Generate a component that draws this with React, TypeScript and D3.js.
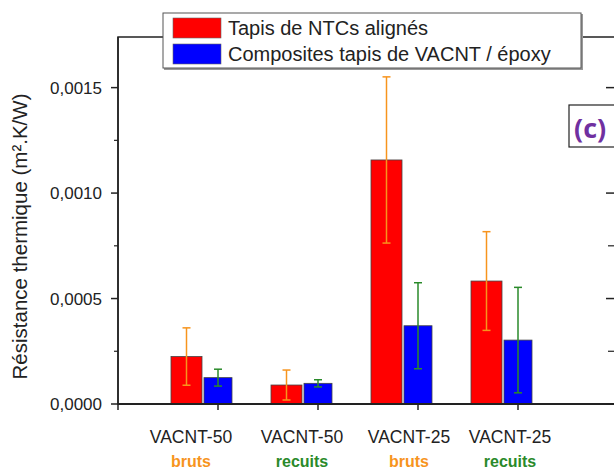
import React, { useRef, useEffect } from 'react';
import * as d3 from 'd3';

const categories = ['VACNT-50', 'VACNT-50', 'VACNT-25', 'VACNT-25'];
const treatments = ['bruts', 'recuits', 'bruts', 'recuits'];
const ntcValues = [0.000225, 0.00009, 0.001157, 0.000583];
const ntcErrors = [0.000136, 0.000071, 0.000394, 0.000234];
const compositeValues = [0.000125, 0.000098, 0.000371, 0.000303];
const compositeErrors = [0.00004, 0.000017, 0.000204, 0.00025];
const seriesNames = ['Tapis de NTCs alignés', 'Composites tapis de VACNT / époxy'];
const yTicks = [0, 0.0005, 0.001, 0.0015];
const yMinorTicks = [0.00025, 0.00075, 0.00125];

// label nudges, the source figure had hand-placed category text
const labelNudge = [-11, 0, 7, 8];

const FONT = "'Liberation Sans', Arial, sans-serif";
const ORANGE = '#f7941d';
const GREEN = '#2a8a2a';

export default function App() {
  const ref = useRef<SVGSVGElement>(null);

  useEffect(() => {
    if (!ref.current) return;
    const svg = d3.select(ref.current);
    svg.selectAll('*').remove();

    const left = 118;
    const right = 612;
    const top = 37;
    const bottom = 404;

    const idx = categories.map((_, i) => String(i));
    const x = d3.scalePoint<string>().domain(idx).range([218, 518]);
    const y = d3.scaleLinear().domain([0, 0.00174]).range([bottom, top]);

    const g = svg.append('g');

    // frame
    g.append('rect')
      .attr('x', left)
      .attr('y', top)
      .attr('width', right - left + 10)
      .attr('height', bottom - top)
      .attr('fill', 'none')
      .attr('stroke', '#222')
      .attr('stroke-width', 1.5);

    const barW = 31;
    const rows = idx.map((k, i) => ({
      k,
      i,
      ntc: ntcValues[i],
      ntcErr: ntcErrors[i],
      comp: compositeValues[i],
      compErr: compositeErrors[i],
    }));

    // bars
    g.selectAll('rect.ntc')
      .data(rows)
      .enter()
      .append('rect')
      .attr('class', 'ntc')
      .attr('x', d => (x(d.k) as number) - 47)
      .attr('y', d => y(d.ntc))
      .attr('width', barW)
      .attr('height', d => bottom - y(d.ntc))
      .attr('fill', '#ff0000')
      .attr('stroke', '#444')
      .attr('stroke-width', 0.8);

    g.selectAll('rect.comp')
      .data(rows)
      .enter()
      .append('rect')
      .attr('class', 'comp')
      .attr('x', d => (x(d.k) as number) - 14)
      .attr('y', d => y(d.comp))
      .attr('width', 28)
      .attr('height', d => bottom - y(d.comp))
      .attr('fill', '#0000ff')
      .attr('stroke', '#444')
      .attr('stroke-width', 0.8);

    // error bars
    const errBar = (cx: number, v: number, e: number, color: string) => {
      const y1 = y(v + e);
      const y2 = y(v - e);
      g.append('line').attr('x1', cx).attr('x2', cx).attr('y1', y1).attr('y2', y2)
        .attr('stroke', color).attr('stroke-width', 1.5);
      [y1, y2].forEach(yy =>
        g.append('line').attr('x1', cx - 4).attr('x2', cx + 4).attr('y1', yy).attr('y2', yy)
          .attr('stroke', color).attr('stroke-width', 1.5)
      );
    };
    rows.forEach(d => {
      const c = x(d.k) as number;
      errBar(c - 47 + barW / 2, d.ntc, d.ntcErr, ORANGE);
      errBar(c, d.comp, d.compErr, GREEN);
    });

    // bottom axis
    g.append('line').attr('x1', left).attr('x2', right + 10).attr('y1', bottom).attr('y2', bottom)
      .attr('stroke', '#222').attr('stroke-width', 1.8);
    idx.forEach(k => {
      const cx = x(k) as number;
      g.append('line').attr('x1', cx).attr('x2', cx).attr('y1', bottom).attr('y2', bottom + 6)
        .attr('stroke', '#222').attr('stroke-width', 1.5);
    });

    // left axis
    g.append('line').attr('x1', left).attr('x2', left).attr('y1', top).attr('y2', bottom + 6)
      .attr('stroke', '#222').attr('stroke-width', 1.5);
    yTicks.forEach(t => {
      g.append('line').attr('x1', left - 7).attr('x2', left).attr('y1', y(t)).attr('y2', y(t))
        .attr('stroke', '#222').attr('stroke-width', 1.5);
      g.append('line').attr('x1', right - 6).attr('x2', right + 2).attr('y1', y(t)).attr('y2', y(t))
        .attr('stroke', '#222').attr('stroke-width', 1.5);
      g.append('text')
        .attr('x', left - 16)
        .attr('y', y(t))
        .attr('dy', '0.36em')
        .attr('text-anchor', 'end')
        .attr('font-family', FONT)
        .attr('font-size', 17)
        .attr('fill', '#222')
        .text(d3.format('.4f')(t).replace('.', ','));
    });
    yMinorTicks.forEach(t => {
      g.append('line').attr('x1', left - 4).attr('x2', left).attr('y1', y(t)).attr('y2', y(t))
        .attr('stroke', '#222').attr('stroke-width', 1.2);
      g.append('line').attr('x1', right - 4).attr('x2', right + 2).attr('y1', y(t)).attr('y2', y(t))
        .attr('stroke', '#222').attr('stroke-width', 1.2);
    });

    // y title
    g.append('text')
      .attr('transform', `translate(27, ${(top + bottom) / 2 + 16}) rotate(-90)`)
      .attr('text-anchor', 'middle')
      .attr('font-family', FONT)
      .attr('font-size', 20.5)
      .attr('fill', '#222')
      .text('Résistance thermique (m².K/W)');

    // category labels
    rows.forEach(d => {
      const cx = (x(d.k) as number) - 16 + labelNudge[d.i];
      g.append('text')
        .attr('x', cx)
        .attr('y', 443)
        .attr('text-anchor', 'middle')
        .attr('font-family', FONT)
        .attr('font-size', 17.5)
        .attr('fill', '#222')
        .text(categories[d.i]);
      g.append('text')
        .attr('x', cx)
        .attr('y', 467)
        .attr('text-anchor', 'middle')
        .attr('font-family', FONT)
        .attr('font-size', 16)
        .attr('font-weight', 'bold')
        .attr('fill', treatments[d.i] === 'bruts' ? ORANGE : GREEN)
        .text(treatments[d.i]);
    });

    // legend
    const lg = g.append('g');
    lg.append('rect')
      .attr('x', 164)
      .attr('y', 14)
      .attr('width', 419)
      .attr('height', 56)
      .attr('fill', '#999');
    lg.append('rect')
      .attr('x', 163)
      .attr('y', 13)
      .attr('width', 418)
      .attr('height', 55)
      .attr('fill', '#fff')
      .attr('stroke', '#555')
      .attr('stroke-width', 1);
    const swatch = ['#ff0000', '#0000ff'];
    seriesNames.forEach((name, i) => {
      lg.append('rect')
        .attr('x', 173)
        .attr('y', 18 + i * 26)
        .attr('width', 48)
        .attr('height', 20)
        .attr('fill', swatch[i])
        .attr('stroke', '#666')
        .attr('stroke-width', 0.6);
      lg.append('text')
        .attr('x', 228)
        .attr('y', 35 + i * 26)
        .attr('font-family', FONT)
        .attr('font-size', 20)
        .attr('fill', '#222')
        .text(name);
    });

    // panel tag
    g.append('rect')
      .attr('x', 569)
      .attr('y', 105)
      .attr('width', 60)
      .attr('height', 42)
      .attr('fill', '#fff')
      .attr('stroke', '#222')
      .attr('stroke-width', 1.2);
    g.append('text')
      .attr('x', 574)
      .attr('y', 138)
      .attr('font-family', "'Open Sans', 'Liberation Sans', sans-serif")
      .attr('font-size', 27)
      .attr('font-weight', 'bold')
      .attr('fill', '#7030a0')
      .text('(c)');
  }, []);

  return (
    <svg
      ref={ref}
      width={614}
      height={473}
      style={{ position: 'absolute', left: 0, top: 0, background: '#fff' }}
    />
  );
}
